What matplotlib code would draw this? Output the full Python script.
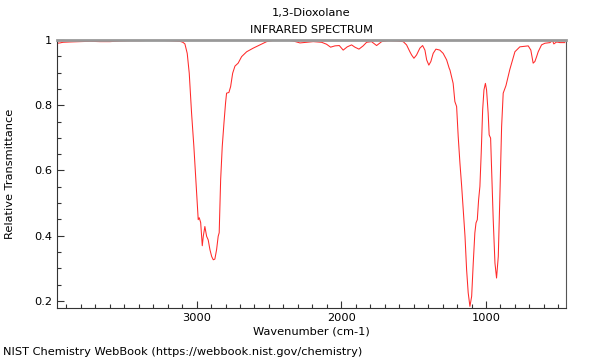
import matplotlib
matplotlib.use("Agg")
import matplotlib.pyplot as plt
from matplotlib.ticker import MultipleLocator, FixedLocator

wavenumber = [3963, 3945, 3924, 3875, 3806, 3737, 3668, 3599, 3530, 3461, 3392, 3323, 3254, 3185,
              3150, 3115, 3095, 3081, 3065, 3051, 3035, 3019, 3005, 2996, 2989, 2982, 2972, 2961,
              2954, 2943, 2931, 2920, 2908, 2896, 2885, 2874, 2862, 2851, 2844, 2834, 2823, 2811,
              2800, 2793, 2777, 2765, 2751, 2735, 2713, 2689, 2654, 2609, 2563, 2516, 2471, 2378,
              2332, 2286, 2240, 2194, 2136, 2102, 2074, 2044, 2014, 1987, 1959, 1929, 1906, 1878,
              1849, 1825, 1791, 1756, 1721, 1676, 1618, 1572, 1549, 1526, 1514, 1498, 1480, 1457,
              1438, 1422, 1410, 1395, 1381, 1365, 1346, 1319, 1296, 1272, 1254, 1249, 1227, 1215,
              1203, 1192, 1180, 1168, 1157, 1145, 1134, 1123, 1111, 1099, 1088, 1077, 1069, 1060,
              1051, 1042, 1033, 1023, 1014, 1004, 996, 985, 978, 968, 961, 950, 938, 927, 915, 904,
              892, 881, 862, 835, 800, 766, 708, 690, 674, 662, 650, 639, 616, 593, 558, 540, 531,
              512, 489, 455]
transmittance = [0.990, 0.991, 0.993, 0.994, 0.995, 0.996, 0.995, 0.995, 0.997, 0.998, 0.998, 0.999,
                 0.999, 0.998, 0.997, 0.996, 0.993, 0.988, 0.959, 0.898, 0.776, 0.673, 0.571, 0.501,
                 0.449, 0.455, 0.440, 0.369, 0.398, 0.428, 0.398, 0.387, 0.357, 0.336, 0.326, 0.328,
                 0.357, 0.398, 0.409, 0.571, 0.673, 0.746, 0.807, 0.837, 0.839, 0.857, 0.898, 0.920,
                 0.929, 0.949, 0.964, 0.975, 0.985, 0.995, 0.999, 1.000, 0.997, 0.991, 0.993, 0.995,
                 0.993, 0.987, 0.978, 0.982, 0.983, 0.969, 0.979, 0.985, 0.978, 0.972, 0.982, 0.993,
                 0.995, 0.983, 0.995, 0.998, 0.997, 0.995, 0.985, 0.964, 0.954, 0.944, 0.954, 0.975,
                 0.983, 0.969, 0.939, 0.923, 0.934, 0.959, 0.972, 0.969, 0.959, 0.939, 0.913, 0.908,
                 0.867, 0.811, 0.796, 0.704, 0.622, 0.551, 0.479, 0.398, 0.296, 0.225, 0.183, 0.214,
                 0.316, 0.408, 0.439, 0.449, 0.510, 0.551, 0.653, 0.786, 0.847, 0.867, 0.847, 0.776,
                 0.709, 0.699, 0.602, 0.449, 0.316, 0.270, 0.336, 0.520, 0.734, 0.837, 0.860, 0.910,
                 0.964, 0.979, 0.982, 0.969, 0.929, 0.934, 0.949, 0.964, 0.985, 0.990, 0.992, 0.998,
                 0.988, 0.994, 0.992, 0.992]

title_lines = ["1,3-Dioxolane", "INFRARED SPECTRUM"]
x_major = [3000, 2000, 1000]
y_major = [0.2, 0.4, 0.6, 0.8, 1.0]
y_major_labels = ["0.2", "0.4", "0.6", "0.8", "1"]

fs = 8.2
fig = plt.figure(figsize=(6, 3.6), dpi=100)
ax = fig.add_axes([57.3 / 600, 1 - 307.7 / 360, (565.7 - 57.3) / 600, (307.7 - 40) / 360])

ax.plot(wavenumber, transmittance, color="#ff2a2a", lw=0.75)
ax.set_xlim(3963, 449)
ax.set_ylim(0.179, 1.0)

ax.xaxis.set_major_locator(FixedLocator(x_major))
ax.xaxis.set_minor_locator(MultipleLocator(100))
ax.set_yticks(y_major)
ax.set_yticklabels(y_major_labels)
ax.yaxis.set_minor_locator(MultipleLocator(0.05))
ax.tick_params(which="both", direction="in", labelsize=fs, color="#333333")
ax.tick_params(which="major", length=5, width=0.8)
ax.tick_params(which="minor", length=3, width=0.8)
ax.tick_params(top=False, right=False, which="both")

ax.spines["top"].set_color("#999999")
ax.spines["top"].set_linewidth(2)
ax.spines["right"].set_color("#555555")
ax.spines["left"].set_color("#333333")
ax.spines["bottom"].set_color("#333333")

fig.text(311 / 600, 1 - 13 / 360, title_lines[0], ha="center", va="center", fontsize=fs)
fig.text(311 / 600, 1 - 30 / 360, title_lines[1], ha="center", va="center", fontsize=fs)
fig.text(311 / 600, 1 - 332 / 360, "Wavenumber (cm-1)", ha="center", va="center", fontsize=fs)
fig.text(10 / 600, 1 - 174 / 360, "Relative Transmittance", ha="center", va="center",
         rotation=90, fontsize=fs)
fig.text(3 / 600, 1 - 352 / 360, "NIST Chemistry WebBook (https://webbook.nist.gov/chemistry)",
         ha="left", va="center", fontsize=fs)

fig.savefig("out.png", dpi=100)
